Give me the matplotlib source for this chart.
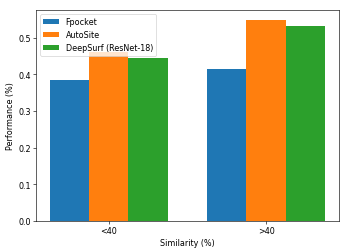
import matplotlib
matplotlib.use("Agg")
import matplotlib.pyplot as plt
import numpy as np

groups = ["<40", ">40"]
methods = ["Fpocket", "AutoSite", "DeepSurf (ResNet-18)"]
fpocket = [0.385, 0.415]
autosite = [0.463, 0.549]
deepsurf = [0.445, 0.533]


def main() -> None:
    dpi = 54.53
    plt.rcParams.update({"font.size": 10.6})
    fig = plt.figure(figsize=(349 / dpi, 252 / dpi), dpi=dpi)
    ax = fig.add_axes([0.103, 0.121, 0.868, 0.835])
    x = np.arange(len(groups))
    w = 0.25
    for off, vals, lab in zip((-w, 0, w), (fpocket, autosite, deepsurf), methods):
        ax.bar(x + off, vals, w, label=lab)
    ax.set_xticks(x, groups)
    ax.set_xlabel("Similarity (%)")
    ax.set_ylabel("Performance (%)")
    ax.legend(loc="upper left")
    fig.savefig("out.png", dpi=dpi)


if __name__ == "__main__":
    main()
